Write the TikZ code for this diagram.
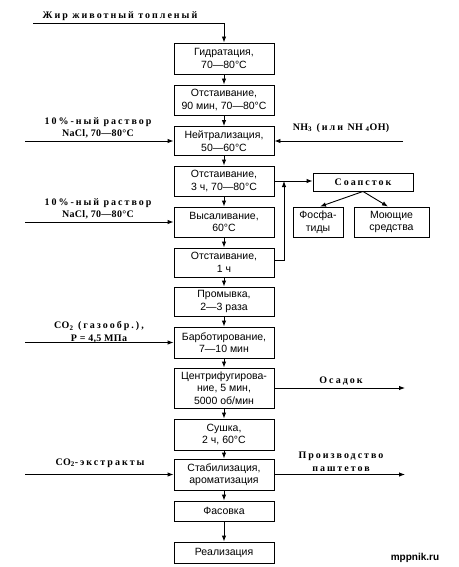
\documentclass[tikz,border=0pt]{standalone}
\usepackage{fontspec}
\setmainfont{Liberation Serif}
\setsansfont{Liberation Sans}
\newfontfamily\boxfont{Liberation Sans}
\newfontfamily\labfont[LetterSpace=20]{Liberation Serif}
\newfontfamily\labplain[LetterSpace=3]{Liberation Serif}
\usetikzlibrary{arrows.meta}
\begin{document}
\begin{tikzpicture}[x=1pt,y=-1pt,
  proc/.style={draw, line width=0.9pt, minimum width=100pt, align=center,
    font=\boxfont\fontsize{10.5}{12.5}\selectfont, inner sep=1pt},
  arr/.style={-{Latex[length=6pt,width=4.5pt]}, line width=0.9pt},
  lab/.style={font=\labfont\bfseries\fontsize{10}{12.5}\selectfont, align=center, inner sep=0pt},
]
\useasboundingbox (0,0) rectangle (458,567);

% main column
\node[proc, minimum height=31pt] (b1) at (224,58.5) {Гидратация,\\70—80°C};
\node[proc, minimum height=30pt] (b2) at (224,100) {Отстаивание,\\90 мин, 70—80°C};
\node[proc, minimum height=29pt] (b3) at (224,141) {Нейтрализация,\\50—60°C};
\node[proc, minimum height=30pt] (b4) at (224,181) {Отстаивание,\\3 ч, 70—80°C};
\node[proc, minimum height=30pt] (b5) at (224,222) {Высаливание,\\60°C};
\node[proc, minimum height=29pt] (b6) at (224,262.5) {Отстаивание,\\1 ч};
\node[proc, minimum height=29pt] (b7) at (224,301.5) {Промывка,\\2—3 раза};
\node[proc, minimum height=31pt] (b8) at (224,342.5) {Барботирование,\\7—10 мин};
\node[proc, minimum height=40pt] (b9) at (224,388) {Центрифугирова-\\ние, 5 мин,\\5000 об/мин};
\node[proc, minimum height=31pt] (b10) at (224,434.5) {Сушка,\\2 ч, 60°C};
\node[proc, minimum height=31pt] (b11) at (224,474.5) {Стабилизация,\\ароматизация};
\node[proc, minimum height=20pt] (b12) at (224,511) {Фасовка};
\node[proc, minimum height=21pt] (b13) at (224,552.5) {Реализация};

% side boxes
\node[proc, minimum width=100pt, minimum height=18pt, font=\labfont\bfseries\fontsize{10}{12}\selectfont] (soap) at (363,182) {Соапсток};
\node[proc, minimum width=50pt, minimum height=30pt] (phos) at (318,222) {Фосфа-\\тиды};
\node[proc, minimum width=75pt, minimum height=30pt] (mo) at (391.5,222) {Моющие\\средства};

% vertical flow
\foreach \a/\b in {b1/b2,b2/b3,b3/b4,b4/b5,b5/b6,b6/b7,b7/b8,b8/b9,b9/b10,b10/b11,b11/b12,b12/b13}
  \draw[arr] (\a) -- (\b);

% top input
\coordinate (st) at (33,23);
\node[lab] (l0) at (120,16) {Жир животный топленый};
\draw[arr] (st) -- (st -| b1.north) -- (b1.north);

% left inputs
\coordinate (i3) at (25,141);
\coordinate (i5) at (25,222);
\coordinate (i8) at (25,342.5);
\coordinate (i11) at (25,474.5);
\draw[arr] (i3) -- (b3);
\draw[arr] (i5) -- (b5);
\draw[arr] (i8) -- (b8);
\draw[arr] (i11) -- (b11);
\node[lab] (l3) at (98,128) {10\%-ный раствор\\{\labplain NaCl, 70—80°C}};
\node[lab] (l5) at (98,209) {10\%-ный раствор\\{\labplain NaCl, 70—80°C}};
\node[lab] (l8) at (99,332) {{\labplain CO\textsubscript{2}} (газообр.),\\{\labplain P = 4,5 МПа}};
\node[lab] (l11) at (100,463) {{\labplain CO\textsubscript{2}}-экстракты};

% right inputs / outputs
\coordinate (r3) at (403,141);
\draw[arr] (r3) -- (b3);
\node[lab] (lr3) at (341,128) {{\labplain NH\textsubscript{3}} (или {\labplain NH \textsubscript{4}OH)}};
\coordinate (o9) at (405,388);
\draw[arr] (b9) -- (o9);
\node[lab] (lo9) at (341,381) {Осадок};
\coordinate (o11) at (405,474.5);
\draw[arr] (b11) -- (o11);
\node[lab] (lo11) at (341,462) {Производство\\паштетов};

% soapstock
\draw[arr] (b4.east) -- (b4.east -| soap.west);
\coordinate (fb) at (284,181);
\draw[arr] ([yshift=2.5pt]b6.east) -| (fb);
\draw[arr] (soap.south) -- ([xshift=2pt]phos.north);
\draw[arr] (soap.south) -- ([xshift=-3.5pt]mo.north);

% watermark
\node[font=\boxfont\bfseries\fontsize{10}{12}\selectfont, inner sep=0pt] (wm) at (415,558) {mppnik.ru};
\end{tikzpicture}
\end{document}
